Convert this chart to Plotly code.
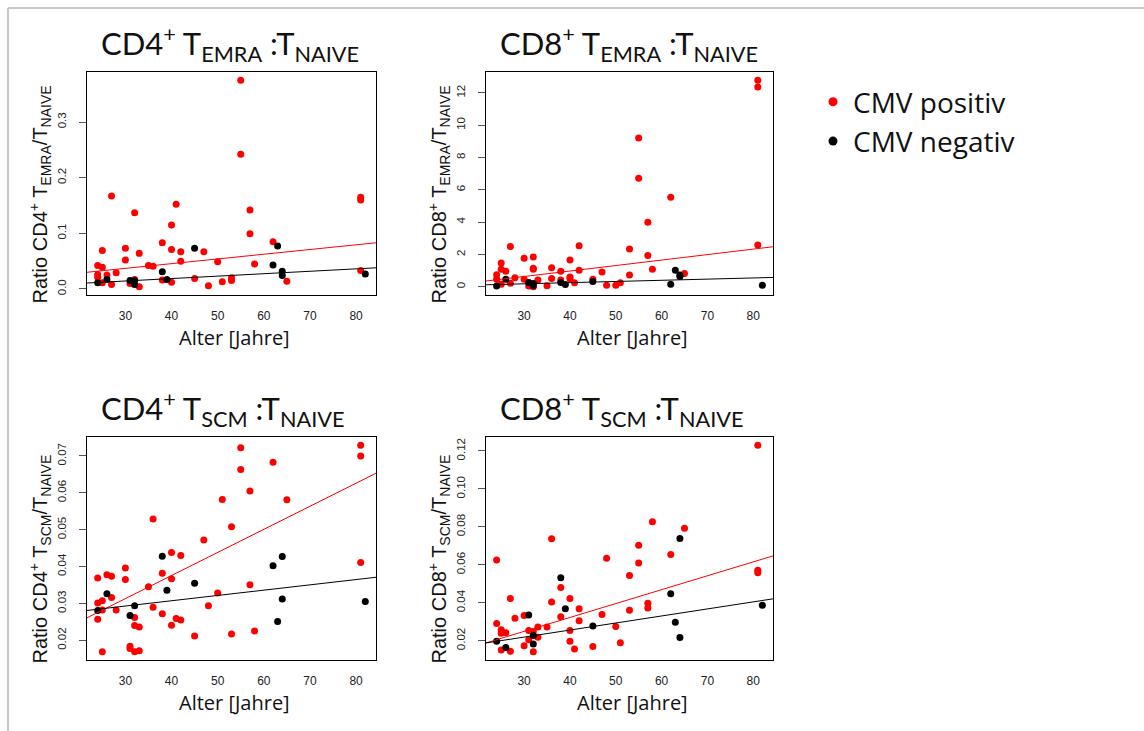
import plotly.graph_objects as go

# ---------------- data ----------------
# Panel 1: CD4+ TEMRA : TNAIVE
cd4_emra_pos_age = [55, 55, 27, 41, 32, 81, 81, 57, 40, 57, 62, 38, 47, 25, 30, 33, 40, 42, 30, 42, 50, 35,
                    36, 24, 25, 28, 26, 24, 24, 58, 81, 45, 53, 53, 51, 38, 40, 32, 31, 27, 25, 33, 48, 65]
cd4_emra_pos_val = [0.375, 0.242, 0.167, 0.152, 0.137, 0.165, 0.160, 0.142, 0.115, 0.099, 0.085, 0.083, 0.067,
                    0.069, 0.073, 0.064, 0.071, 0.067, 0.052, 0.050, 0.049, 0.042, 0.041, 0.042, 0.039, 0.029,
                    0.025, 0.026, 0.021, 0.045, 0.033, 0.019, 0.020, 0.015, 0.013, 0.016, 0.012, 0.017, 0.010,
                    0.008, 0.011, 0.004, 0.006, 0.014]
cd4_emra_neg_age = [24, 26, 31, 32, 32, 38, 39, 45, 62, 63, 64, 64, 82]
cd4_emra_neg_val = [0.011, 0.017, 0.015, 0.015, 0.008, 0.031, 0.017, 0.073, 0.043, 0.077, 0.032, 0.024, 0.027]

# Panel 2: CD8+ TEMRA : TNAIVE
cd8_emra_pos_age = [81, 81, 55, 55, 62, 57, 81, 27, 42, 53, 57, 30, 32, 25, 40, 32, 32, 36, 25, 26, 38, 42, 47,
                    58, 65, 53, 24, 28, 30, 36, 40, 40, 33, 45, 38, 24, 27, 25, 41, 31, 51, 50, 48, 35, 31, 32]
cd8_emra_pos_val = [12.78, 12.37, 9.20, 6.71, 5.54, 3.99, 2.58, 2.49, 2.54, 2.33, 1.94, 1.76, 1.84, 1.47, 1.66,
                    1.14, 1.08, 1.17, 1.08, 0.96, 0.96, 1.02, 0.92, 1.08, 0.82, 0.72, 0.74, 0.55, 0.47, 0.51,
                    0.60, 0.50, 0.41, 0.47, 0.41, 0.47, 0.22, 0.16, 0.25, 0.25, 0.25, 0.10, 0.10, 0.06, 0.04, 0.00]
cd8_emra_neg_age = [24, 26, 31, 32, 32, 38, 39, 45, 62, 63, 64, 64, 82]
cd8_emra_neg_val = [0.04, 0.47, 0.27, 0.20, 0.06, 0.27, 0.14, 0.33, 0.16, 1.02, 0.72, 0.63, 0.10]

# Panel 3: CD4+ TSCM : TNAIVE
cd4_scm_pos_age = [81, 81, 55, 55, 62, 57, 51, 65, 53, 36, 47, 40, 42, 81, 30, 38, 26, 27, 24, 30, 40, 57, 35,
                   50, 27, 25, 24, 48, 36, 25, 28, 38, 32, 24, 41, 42, 32, 33, 40, 45, 53, 58, 31, 31, 32, 33, 25]
cd4_scm_pos_val = [0.0729, 0.0700, 0.0722, 0.0663, 0.0683, 0.0605, 0.0582, 0.0581, 0.0508, 0.0529, 0.0472,
                   0.0438, 0.0430, 0.0411, 0.0396, 0.0382, 0.0378, 0.0374, 0.0369, 0.0365, 0.0367, 0.0351,
                   0.0345, 0.0328, 0.0316, 0.0307, 0.0301, 0.0294, 0.0290, 0.0282, 0.0282, 0.0272, 0.0262,
                   0.0257, 0.0259, 0.0255, 0.0240, 0.0236, 0.0241, 0.0212, 0.0217, 0.0225, 0.0184, 0.0178,
                   0.0169, 0.0172, 0.0169]
cd4_scm_neg_age = [24, 26, 31, 32, 38, 39, 45, 62, 63, 64, 64, 82]
cd4_scm_neg_val = [0.0281, 0.0326, 0.0267, 0.0294, 0.0428, 0.0336, 0.0355, 0.0402, 0.0251, 0.0427, 0.0312, 0.0305]

# Panel 4: CD8+ TSCM : TNAIVE
cd8_scm_pos_age = [81, 81, 81, 58, 65, 36, 55, 62, 48, 24, 55, 53, 38, 27, 40, 36, 57, 57, 30, 47, 42, 28, 38,
                   42, 53, 24, 33, 35, 50, 25, 25, 26, 31, 40, 31, 33, 32, 40, 30, 51, 41, 45, 25, 27, 32]
cd8_scm_pos_val = [0.1230, 0.0572, 0.0558, 0.0827, 0.0793, 0.0738, 0.0703, 0.0655, 0.0635, 0.0626, 0.0610,
                   0.0544, 0.0481, 0.0422, 0.0422, 0.0404, 0.0397, 0.0373, 0.0333, 0.0338, 0.0368, 0.0319,
                   0.0326, 0.0305, 0.0361, 0.0291, 0.0273, 0.0273, 0.0275, 0.0258, 0.0240, 0.0242, 0.0254,
                   0.0254, 0.0205, 0.0219, 0.0249, 0.0197, 0.0174, 0.0190, 0.0156, 0.0169, 0.0151, 0.0144, 0.0142]
cd8_scm_neg_age = [24, 26, 31, 32, 32, 38, 39, 45, 62, 63, 64, 64, 82]
cd8_scm_neg_val = [0.0197, 0.0165, 0.0336, 0.0228, 0.0183, 0.0532, 0.0368, 0.0277, 0.0448, 0.0298, 0.0739,
                   0.0217, 0.0387]

# regression lines (intercept, slope): [CMV positiv, CMV negativ]
fit_intercepts = [[0.01166, 0.00125], [-0.3816, -0.0368], [0.01253, 0.02498], [0.00298, 0.01079]]
fit_slopes = [[0.000846, 0.000436], [0.03387, 0.00726], [0.000626, 0.0001437], [0.000732, 0.000371]]

titles = ["CD4<sup>+</sup> T<sub>EMRA</sub> :T<sub>NAIVE</sub>",
          "CD8<sup>+</sup> T<sub>EMRA</sub> :T<sub>NAIVE</sub>",
          "CD4<sup>+</sup> T<sub>SCM</sub> :T<sub>NAIVE</sub>",
          "CD8<sup>+</sup> T<sub>SCM</sub> :T<sub>NAIVE</sub>"]
ytitles = ["Ratio CD4<sup>+</sup> T<sub>EMRA</sub>/T<sub>NAIVE</sub>",
           "Ratio CD8<sup>+</sup> T<sub>EMRA</sub>/T<sub>NAIVE</sub>",
           "Ratio CD4<sup>+</sup> T<sub>SCM</sub>/T<sub>NAIVE</sub>",
           "Ratio CD8<sup>+</sup> T<sub>SCM</sub>/T<sub>NAIVE</sub>"]
xtitle = "Alter [Jahre]"
legend_labels = ["CMV positiv", "CMV negativ"]
ytick_steps = [0.1, 2, 0.01, 0.02]
ytick_formats = [".1f", "d", ".2f", ".2f"]

panels = [
    (cd4_emra_pos_age, cd4_emra_pos_val, cd4_emra_neg_age, cd4_emra_neg_val),
    (cd8_emra_pos_age, cd8_emra_pos_val, cd8_emra_neg_age, cd8_emra_neg_val),
    (cd4_scm_pos_age, cd4_scm_pos_val, cd4_scm_neg_age, cd4_scm_neg_val),
    (cd8_scm_pos_age, cd8_scm_pos_val, cd8_scm_neg_age, cd8_scm_neg_val),
]

# ---------------- layout (pixels) ----------------
W, H = 1144, 731
boxes = [(87, 72, 376, 295), (486, 72, 773, 295), (87, 437, 376, 660), (486, 437, 773, 660)]
COLORS = ["#ff0000", "#000000"]
TITLE_FONT = "Lato, 'Open Sans', sans-serif"
LABEL_FONT = "'Open Sans', Lato, sans-serif"
R_FONT = "'Liberation Sans', Arial, Helvetica, sans-serif"


def px_x(p):
    return p / W


def px_y(p):
    return 1 - p / H


def padded(lo, hi, f=0.04):
    d = hi - lo
    return [lo - f * d, hi + f * d]


fig = go.Figure()
annotations = []

all_ages = [a for p in panels for a in p[0] + p[2]]
xr = padded(min(all_ages), max(all_ages))

for i, (pa, pv, na, nv) in enumerate(panels):
    sfx = "" if i == 0 else str(i + 1)
    xa, ya = "x" + sfx, "y" + sfx
    for ages, vals, col, lab in [(pa, pv, COLORS[0], legend_labels[0]), (na, nv, COLORS[1], legend_labels[1])]:
        fig.add_trace(go.Scatter(x=ages, y=vals, mode="markers", xaxis=xa, yaxis=ya,
                                 marker=dict(color=col, size=7, line=dict(width=0)),
                                 name=lab, showlegend=False, hoverinfo="x+y"))
    for k, col in enumerate(COLORS):
        b0, b1 = fit_intercepts[i][k], fit_slopes[i][k]
        fig.add_trace(go.Scatter(x=xr, y=[b0 + b1 * xr[0], b0 + b1 * xr[1]], mode="lines",
                                 xaxis=xa, yaxis=ya, line=dict(color=col, width=1),
                                 showlegend=False, hoverinfo="skip"))
    yr = padded(min(pv + nv), max(pv + nv))
    x0, y0, x1, y1 = boxes[i]
    fig.layout["xaxis" + sfx] = dict(
        domain=[px_x(x0), px_x(x1)], range=xr, anchor=ya, tick0=0, dtick=10,
        showgrid=False, zeroline=False, showline=True, mirror=True, linecolor="black", linewidth=1,
        ticks="", ticklabelstandoff=10,
        tickfont=dict(family=R_FONT, size=12, color="#222"))
    fig.layout["yaxis" + sfx] = dict(
        domain=[px_y(y1), px_y(y0)], range=yr, anchor=xa, tick0=0, dtick=ytick_steps[i],
        tickformat=ytick_formats[i], tickangle=-90,
        showgrid=False, zeroline=False, showline=True, mirror=True, linecolor="black", linewidth=1,
        ticks="outside", ticklen=7, tickcolor="#555", tickwidth=1, ticklabelstandoff=8,
        tickfont=dict(family=R_FONT, size=11.5, color="#222"))
    # panel title
    annotations.append(dict(text=titles[i], x=px_x(x0 + 12), y=px_y(y0 - 28), xref="paper", yref="paper",
                            xanchor="left", yanchor="middle", showarrow=False,
                            font=dict(family=TITLE_FONT, size=31, color="#111")))
    # y-axis title
    annotations.append(dict(text=ytitles[i], x=px_x(x0 - 47), y=px_y((y0 + y1) / 2 + 11), xref="paper",
                            yref="paper", xanchor="center", yanchor="middle", textangle=-90, showarrow=False,
                            font=dict(family=R_FONT, size=20, color="#111")))
    # x-axis title
    annotations.append(dict(text=xtitle, x=px_x((x0 + x1) / 2 + 3), y=px_y(y1 + 42), xref="paper",
                            yref="paper", xanchor="center", yanchor="middle", showarrow=False,
                            font=dict(family=LABEL_FONT, size=20, color="#111")))

# legend entries
for col, lab in zip(COLORS, legend_labels):
    fig.add_trace(go.Scatter(x=[None], y=[None], mode="markers", name=lab,
                             marker=dict(color=col, size=9), showlegend=True))

fig.update_layout(
    width=W, height=H, margin=dict(l=0, r=0, t=0, b=0),
    paper_bgcolor="white", plot_bgcolor="white",
    annotations=annotations,
    legend=dict(x=px_x(813), y=px_y(77), xanchor="left", yanchor="top",
                font=dict(family=LABEL_FONT, size=28, color="#111"), bgcolor="rgba(0,0,0,0)",
                itemwidth=30, tracegroupgap=0),
    shapes=[
        dict(type="line", xref="paper", yref="paper", x0=px_x(8), x1=1, y0=px_y(8), y1=px_y(8),
             line=dict(color="#c8c8c8", width=2)),
        dict(type="line", xref="paper", yref="paper", x0=px_x(8), x1=px_x(8), y0=px_y(8), y1=0,
             line=dict(color="#c8c8c8", width=2)),
    ],
)

fig.write_html("out.html")
